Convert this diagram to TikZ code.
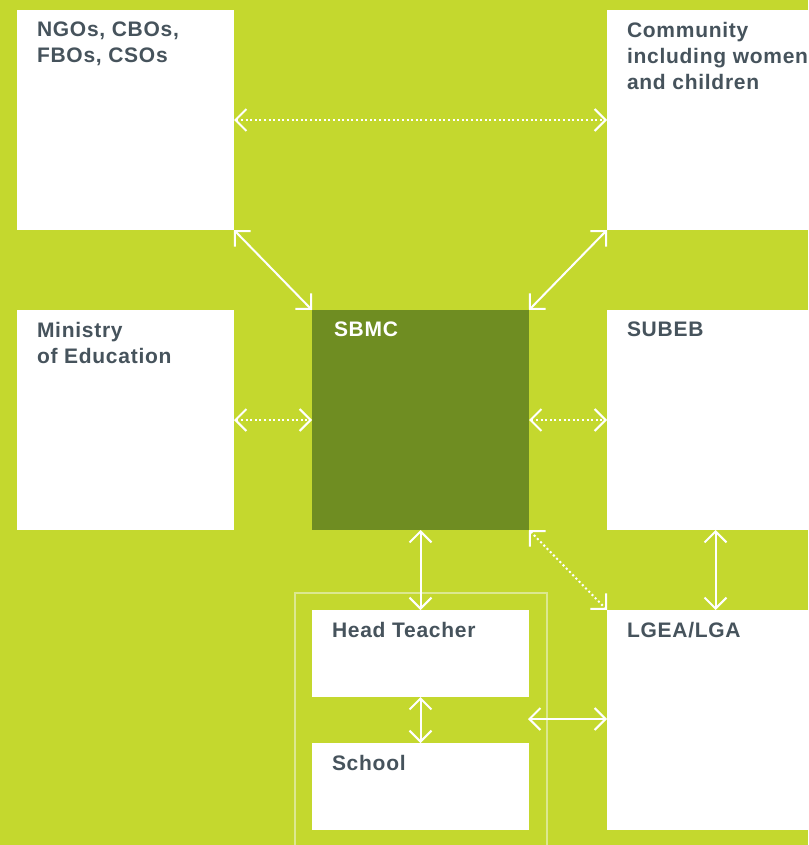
\documentclass[tikz,border=0pt]{standalone}
\usepackage{fontspec}
\setmainfont{Liberation Sans}[LetterSpace=3.5]
\usetikzlibrary{arrows.meta}
\definecolor{lime}{HTML}{C4D82E}
\definecolor{sbmcgreen}{HTML}{6F8D22}
\definecolor{txt}{HTML}{46535C}
\definecolor{frame}{HTML}{DCE88F}
\tikzset{
  box/.style={fill=white, draw=none, anchor=north west, inner sep=0pt, outer sep=0pt, minimum width=217pt, minimum height=220pt},
  smallbox/.style={box, minimum height=87pt},
  lbl/.style={anchor=north west, inner sep=0pt, outer sep=0pt, align=left, text=txt, font=\fontsize{21}{26}\selectfont\bfseries},
  chev/.tip={Straight Barb[length=11pt, width=22pt, line width=2pt]},
  solidarr/.style={draw=white, line width=2pt, chev-chev, shorten <=0pt, shorten >=0pt},
  dotarr/.style={solidarr, dash pattern=on 2pt off 2.6pt}
}
\begin{document}
\begin{tikzpicture}[x=1pt, y=-1pt]
\clip (0,0) rectangle (808,845);
\fill[lime] (0,0) rectangle (808,845);
% frame around head teacher and school
\node[draw=frame, line width=2pt, anchor=north west, inner sep=0pt, minimum width=252pt, minimum height=270pt] (grp) at (294,592) {};
% boxes
\node[box] (ngo) at (17,10) {};
\node[box] (comm) at (607,10) {};
\node[box] (min) at (17,310) {};
\node[box, fill=sbmcgreen] (sbmc) at (312,310) {};
\node[box] (subeb) at (607,310) {};
\node[smallbox] (ht) at (312,610) {};
\node[smallbox] (school) at (312,743) {};
\node[box] (lgea) at (607,610) {};
% labels
\node[lbl] (ngo-t) at (37,22) {NGOs, CBOs,\\FBOs, CSOs};
\node[lbl] (comm-t) at (627,22) {Community\\including women\\and children};
\node[lbl] (min-t) at (37,322) {Ministry\\of Education};
\node[lbl, text=white] (sbmc-t) at (334,322) {SBMC};
\node[lbl] (subeb-t) at (627,322) {SUBEB};
\node[lbl] (ht-t) at (332,622) {Head Teacher};
\node[lbl] (school-t) at (332,755) {School};
\node[lbl] (lgea-t) at (627,622) {LGEA/LGA};
% connectors
\draw[dotarr] (ngo.east) -- (comm.west);
\draw[solidarr] (ngo.south east) -- (sbmc.north west);
\draw[solidarr] (comm.south west) -- (sbmc.north east);
\draw[dotarr] (min.east) -- (sbmc.west);
\draw[dotarr] (sbmc.east) -- (subeb.west);
\draw[solidarr] (sbmc.south) -- (ht.north);
\draw[dotarr] (sbmc.south east) -- (lgea.north west);
\draw[solidarr] (subeb.south) -- (lgea.north);
\draw[solidarr] (ht.south) -- (school.north);
\coordinate (grp-e) at (528,719);
\draw[solidarr] (grp-e) -- (lgea.west |- grp-e);
\end{tikzpicture}
\end{document}
